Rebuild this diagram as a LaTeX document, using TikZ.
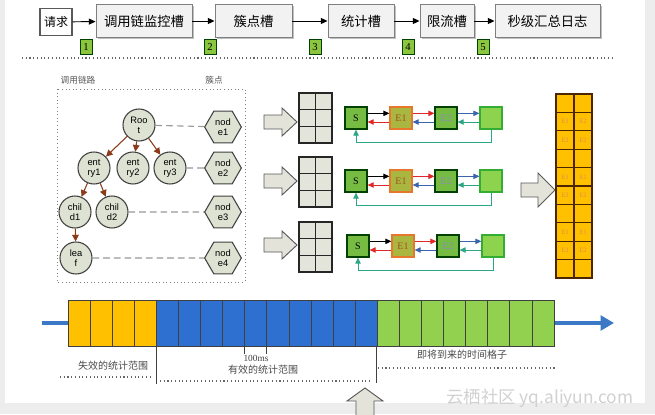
\documentclass[tikz,border=0pt]{standalone}
\usepackage{fontspec}
\setmainfont{Liberation Serif}
\newfontfamily\cjk{Noto Sans CJK SC}
\newfontfamily\arial{Liberation Sans}
\usetikzlibrary{arrows.meta,shapes.geometric,shadows}
\definecolor{boxfill}{HTML}{F2F2F2}
\definecolor{boxline}{HTML}{7F7F7F}
\definecolor{numgreen}{HTML}{8CC63F}
\definecolor{treefill}{HTML}{DDE2D2}
\definecolor{brownarr}{HTML}{8B3A1A}
\definecolor{gridfill}{HTML}{E4E5DA}
\definecolor{gS}{HTML}{76BC43}
\definecolor{gEone}{HTML}{A9B640}
\definecolor{oEone}{HTML}{E8772E}
\definecolor{gEthree}{HTML}{8ED34E}
\definecolor{arrRed}{HTML}{E02828}
\definecolor{arrBlue}{HTML}{3A64B0}
\definecolor{arrTeal}{HTML}{2CA585}
\definecolor{cyellow}{HTML}{FFC000}
\definecolor{cblue}{HTML}{2E70D0}
\definecolor{cgreen}{HTML}{92D050}
\definecolor{axisblue}{HTML}{3B78C6}
\definecolor{pagegray}{HTML}{EDEDED}
\definecolor{blockfill}{HTML}{E3E3DA}
\tikzset{
  topbox/.style={draw=boxline, fill=boxfill, line width=0.7pt, minimum height=24.75pt, inner sep=0pt,
    font=\cjk\fontsize{10}{12}\selectfont,
    drop shadow={shadow xshift=1.3pt, shadow yshift=-1.3pt, fill=black!40, opacity=0.6}},
  flowarr/.style={-{Triangle[length=5pt,width=4.5pt]}, line width=0.7pt, black},
  numbox/.style={fill=numgreen, draw=green!25!black, line width=0.5pt, minimum width=9pt, minimum height=11.5pt, inner sep=0pt, font=\fontsize{8}{9}\selectfont},
  smalllabel/.style={font=\cjk\fontsize{6.5}{7}\selectfont, text=black!65},
  treenode/.style={circle, draw=black!75, fill=treefill, line width=0.8pt, minimum size=24pt, inner sep=0pt, align=center, font=\arial\fontsize{7}{7.5}\selectfont},
  hexnode/.style={regular polygon, regular polygon sides=6, draw=black!75, fill=treefill, line width=0.8pt, minimum size=27.5pt, inner sep=0pt, align=center, font=\arial\fontsize{7}{7.5}\selectfont},
  treearr/.style={-{Triangle[length=5pt,width=5pt]}, brownarr, line width=0.8pt},
  dashlink/.style={dashed, dash pattern=on 5pt off 3pt, black!40, line width=0.8pt},
  blockstyle/.style={fill=blockfill, draw=black!65, line width=0.7pt},
  gridstyle/.style={fill=gridfill, draw=black!85, line width=0.9pt},
  chainbox/.style={minimum size=16.5pt, inner sep=0pt, line width=0.9pt, font=\fontsize{7.5}{8}\selectfont},
  sbox/.style={chainbox, fill=gS, draw=black!75!green},
  eonebox/.style={chainbox, fill=gEone, draw=oEone, text=oEone!70!black},
  etwobox/.style={chainbox, fill=gS, draw=black!75!green, text=blue!30!gray!70},
  ethreebox/.style={chainbox, fill=gEthree, draw=green!60!black!80},
  carr/.style={-{Triangle[length=4.5pt,width=4pt]}, line width=0.7pt},
  cellstyle/.style={draw=black!75, line width=0.6pt},
  ycell/.style={draw=black!70!orange, fill=cyellow, line width=0.8pt},
  ytext/.style={font=\fontsize{5}{5}\selectfont, text=orange!80!black!70},
  bottomlabel/.style={font=\cjk\fontsize{7.5}{8}\selectfont, text=black!70},
  rangeline/.style={black!75, line width=0.6pt},
  dotline/.style={dotted, line width=0.8pt, black!60}
}
\begin{document}
\begin{tikzpicture}[x=0.75pt, y=-0.75pt]
\useasboundingbox (0,0) rectangle (655,414);
\fill[pagegray] (0,0) rectangle (655,414);
\fill[white] (5,0) rectangle (645,403);

% ---------- top flow ----------
\node[draw=black!65, fill=white, line width=0.9pt, minimum width=24pt, minimum height=20.25pt, inner sep=0pt,
      font=\cjk\fontsize{9}{10}\selectfont] (req) at (56,22) {请求};
\node[topbox, minimum width=72pt] (b1) at (144,21) {调用链监控槽};
\node[topbox, minimum width=57.75pt] (b2) at (253.5,21) {簇点槽};
\node[topbox, minimum width=49.5pt] (b3) at (361,21) {统计槽};
\node[topbox, minimum width=40.5pt] (b4) at (447,21) {限流槽};
\node[topbox, minimum width=78.75pt] (b5) at (547.5,21) {秒级汇总日志};
\draw[flowarr] (req) -- (b1);
\draw[flowarr] (b1) -- (b2);
\draw[flowarr] (b2) -- (b3);
\draw[flowarr] (b3) -- (b4);
\draw[flowarr] (b4) -- (b5);
\node[numbox] (n1) at (86,47) {1};
\node[numbox] (n2) at (210,47) {2};
\node[numbox] (n3) at (315,47) {3};
\node[numbox] (n4) at (408,47) {4};
\node[numbox] (n5) at (483,47) {5};
\coordinate (sepL) at (22,58);
\coordinate (sepR) at (612,58);
\draw[dotline] (sepL) -- (sepR);

% ---------- tree ----------
\node[smalllabel] (lblA) at (78,80) {调用链路};
\node[smalllabel] (lblB) at (214,80) {簇点};
\draw[dotted, black!50, line width=0.7pt] (57,89) rectangle (245,282);
\node[treenode] (root) at (139,125) {Roo\\t};
\node[treenode] (e1) at (94,168) {ent\\ry1};
\node[treenode] (e2) at (133,168) {ent\\ry2};
\node[treenode] (e3) at (170,168) {ent\\ry3};
\node[treenode] (c1) at (75,212) {chil\\d1};
\node[treenode] (c2) at (112,212) {chil\\d2};
\node[treenode] (lf) at (76,258) {lea\\f};
\node[hexnode] (h1) at (223,127) {nod\\e1};
\node[hexnode] (h2) at (223,168) {nod\\e2};
\node[hexnode] (h3) at (223,212) {nod\\e3};
\node[hexnode] (h4) at (223,258) {nod\\e4};
\draw[treearr] (root) -- (e1);
\draw[treearr] (root) -- (e2);
\draw[treearr] (root) -- (e3);
\draw[treearr] (e1) -- (c1);
\draw[treearr] (e1) -- (c2);
\draw[treearr] (c1) -- (lf);
\draw[dashlink] (root) -- (h1);
\draw[dashlink] (e3) -- (h2);
\draw[dashlink] (c2) -- (h3);
\draw[dashlink] (lf) -- (h4);

% ---------- block arrows and grids ----------
\foreach \yy in {122,181,245}{
  \draw[blockstyle] (264,\yy-7) -- (282,\yy-7) -- (282,\yy-14) -- (297,\yy) -- (282,\yy+14) -- (282,\yy+7) -- (264,\yy+7) -- cycle;
}
\foreach \yt in {93,157,222}{
  \draw[gridstyle] (299,\yt) rectangle (332,\yt+50);
  \draw[black!85, line width=0.9pt] (315.5,\yt) -- (315.5,\yt+50)
     (299,\yt+16.7) -- (332,\yt+16.7) (299,\yt+33.3) -- (332,\yt+33.3);
}

% ---------- chains ----------
\foreach \r/\yy/\dx in {a/118/0,b/181/0,c/246/2}{
  \node[sbox] (S\r) at (356+\dx,\yy) {S};
  \node[eonebox] (E\r) at (401+\dx,\yy) {E1};
  \node[etwobox] (F\r) at (446+\dx,\yy) {E2};
  \node[ethreebox] (G\r) at (491+\dx,\yy) {};
  \draw[carr, black] ([yshift=3.5pt]S\r.east) -- ([yshift=3.5pt]E\r.west);
  \draw[carr, arrRed] ([yshift=-3pt]E\r.west) -- ([yshift=-3pt]S\r.east);
  \draw[carr, arrRed] ([yshift=3.5pt]E\r.east) -- ([yshift=3.5pt]F\r.west);
  \draw[carr, arrBlue] ([yshift=-3pt]F\r.west) -- ([yshift=-3pt]E\r.east);
  \draw[carr, arrBlue] ([yshift=3.5pt]F\r.east) -- ([yshift=3.5pt]G\r.west);
  \draw[carr, arrTeal] ([yshift=-3pt]G\r.west) -- ([yshift=-3pt]F\r.east);
  \draw[carr, arrTeal] (G\r.south) -- ++(0,13) -| (S\r.south);
}

% ---------- right column ----------
\draw[blockstyle] (521,183) -- (538,183) -- (538,173) -- (555,190) -- (538,207) -- (538,197) -- (521,197) -- cycle;
\foreach \k in {0,...,9}{
  \draw[ycell] (556,{94+\k*18.4}) rectangle (574,{94+(\k+1)*18.4});
  \draw[ycell] (574,{94+\k*18.4}) rectangle (592,{94+(\k+1)*18.4});
}
\foreach \k/\ta/\tb in {1/E1/E2,2/E2/E2,4/E1/E1,5/E2/E2,7/E1/E1,8/E2/E2}{
  \node[ytext] at (565,{94+(\k+0.5)*18.4}) {\ta};
  \node[ytext] at (583,{94+(\k+0.5)*18.4}) {\tb};
}

% ---------- timeline ----------
\coordinate (axL) at (42,323);
\coordinate (axR) at (614,323);
\draw[axisblue, line width=2.4pt, -{Triangle[length=10pt,width=11pt]}] (axL) -- (axR);
\foreach \i in {0,...,3}
  \draw[cellstyle, fill=cyellow] ({68+\i*22.09},300) rectangle ({68+(\i+1)*22.09},346);
\foreach \i in {4,...,13}
  \draw[cellstyle, fill=cblue] ({68+\i*22.09},300) rectangle ({68+(\i+1)*22.09},346);
\foreach \i in {14,...,21}
  \draw[cellstyle, fill=cgreen] ({68+\i*22.09},300) rectangle ({68+(\i+1)*22.09},346);

\coordinate (vA1) at (156.4,346); \coordinate (vA2) at (156.4,384);
\coordinate (vB1) at (376.2,346); \coordinate (vB2) at (376.2,383);
\coordinate (tA1) at (244.7,346); \coordinate (tA2) at (244.7,354);
\coordinate (tB1) at (266.8,346); \coordinate (tB2) at (266.8,354);
\draw[rangeline] (vA1) -- (vA2);
\draw[rangeline] (vB1) -- (vB2);
\draw[rangeline] (tA1) -- (tA2);
\draw[rangeline] (tB1) -- (tB2);
\node[font=\fontsize{7}{8}\selectfont, text=black!75] (ms) at (256,358) {100ms};
\node[bottomlabel] (lA) at (113,366) {失效的统计范围};
\node[bottomlabel] (lB) at (263,370) {有效的统计范围};
\node[bottomlabel] (lC) at (462,355) {即将到来的时间格子};
\draw[dotline] (60,377) -- (151,377);
\draw[dotline] (160,381) -- (370,381);
\draw[dotline] (378,368) -- (555,368);

\draw[blockstyle] (356,416) -- (356,401) -- (347,401) -- (365,388) -- (383,401) -- (374,401) -- (374,416);

\node[font=\cjk\fontsize{13}{14}\selectfont, text=black!18] (wm) at (540,398) {云栖社区 yq.aliyun.com};
\end{tikzpicture}
\end{document}
